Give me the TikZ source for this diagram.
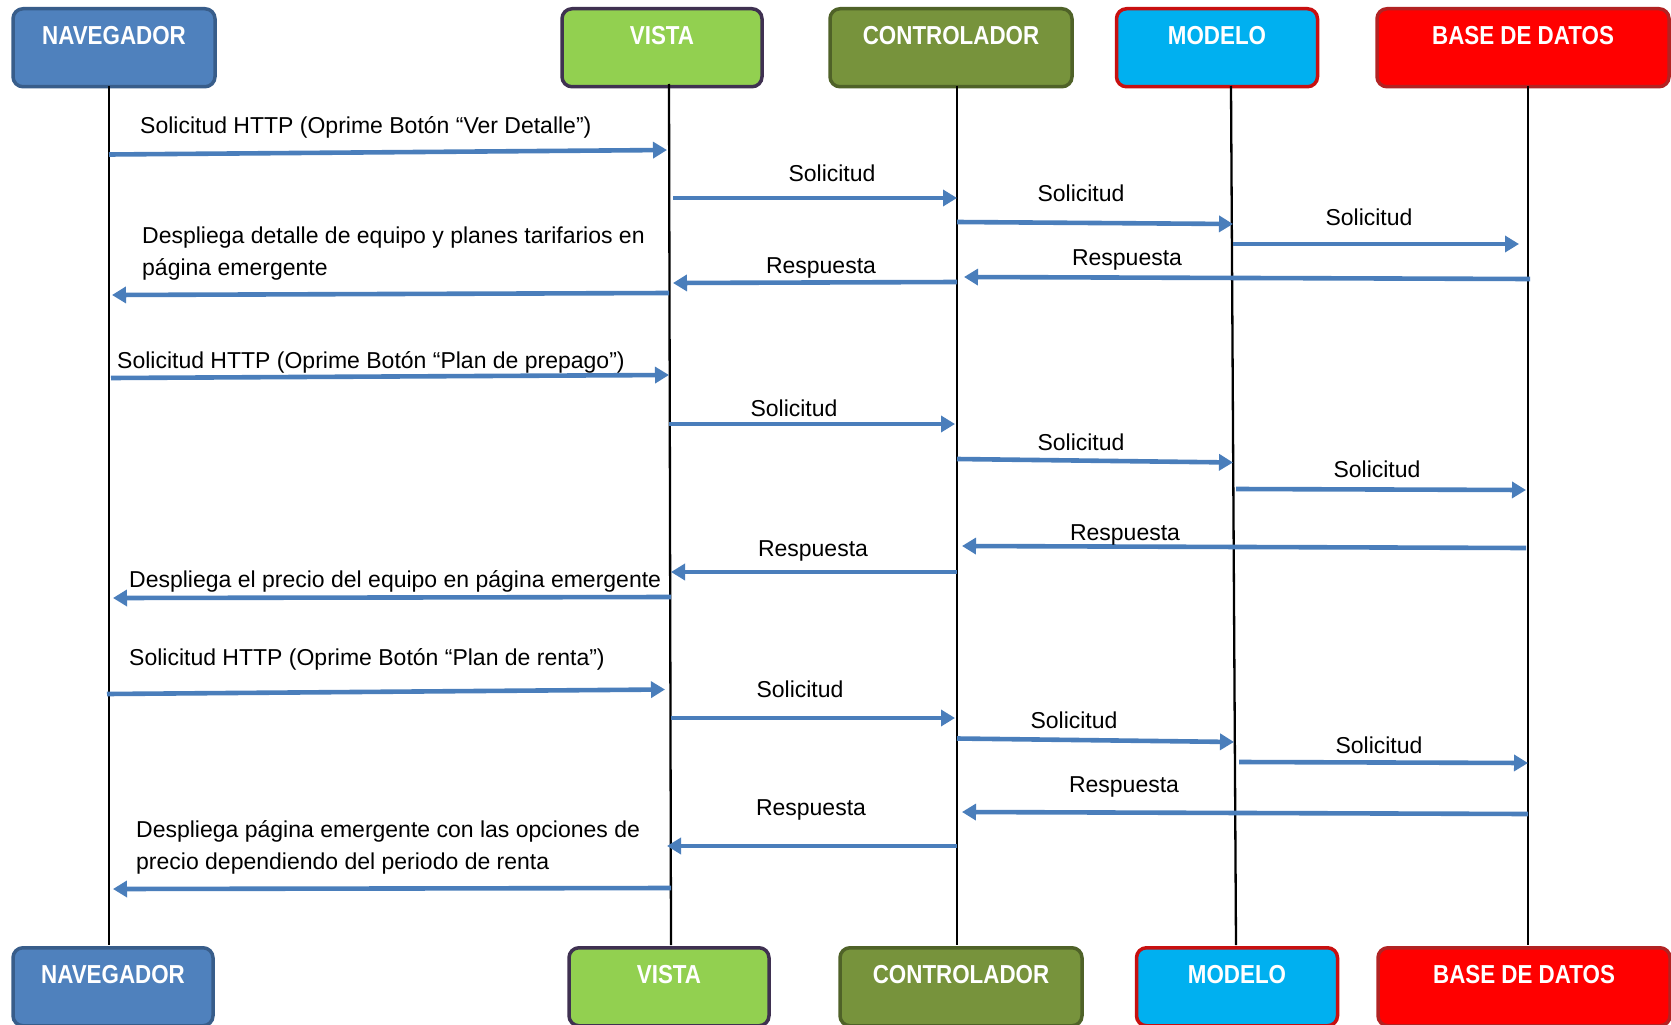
\documentclass[tikz,border=0pt]{standalone}
\usepackage{fontspec}
\setmainfont{Liberation Sans}
\newfontfamily\boxfont[FakeStretch=0.86]{Liberation Sans Bold}
\usetikzlibrary{arrows.meta}
\definecolor{arrowblue}{RGB}{74,126,187}
\definecolor{navfill}{RGB}{79,129,189}
\definecolor{navdraw}{RGB}{56,93,138}
\definecolor{visfill}{RGB}{146,208,80}
\definecolor{visdraw}{RGB}{63,49,81}
\definecolor{confill}{RGB}{119,147,60}
\definecolor{condraw}{RGB}{79,98,40}
\definecolor{modfill}{RGB}{0,176,240}
\definecolor{moddraw}{RGB}{200,16,16}
\definecolor{bdfill}{RGB}{255,0,0}
\definecolor{bddraw}{RGB}{178,34,34}
\begin{document}
\begin{tikzpicture}[x=1pt,y=-1pt,
  actor/.style={draw, line width=3.5pt, rounded corners=10pt, anchor=north,
    inner xsep=0pt, inner ysep=0pt, text height=36pt, text depth=42pt,
    font=\boxfont\fontsize{26}{30}\selectfont, text=white},
  lifeline/.style={black, line width=2.3pt},
  msg/.style={arrowblue, line width=4.6pt, -{Triangle[length=14pt,width=16pt]}},
  lbl/.style={font=\fontsize{23}{30}\selectfont, inner sep=0pt, anchor=base},
  lblw/.style={lbl, anchor=base west}]
\useasboundingbox[fill=white] (0,0) rectangle (1671,1025);

% top boxes
\node[actor, fill=navfill, draw=navdraw, minimum width=202pt] (navT) at (114,7) {NAVEGADOR};
\node[actor, fill=visfill, draw=visdraw, minimum width=200pt] (visT) at (662,7) {VISTA};
\node[actor, fill=confill, draw=condraw, minimum width=242pt] (conT) at (951,7) {CONTROLADOR};
\node[actor, fill=modfill, draw=moddraw, minimum width=201pt] (modT) at (1217,7) {MODELO};
\node[actor, fill=bdfill, draw=bddraw, minimum width=292pt] (bdT) at (1523,7) {BASE DE DATOS};

% bottom boxes
\node[actor, fill=navfill, draw=navdraw, minimum width=200pt] (navB) at (113,946) {NAVEGADOR};
\node[actor, fill=visfill, draw=visdraw, minimum width=200pt] (visB) at (669,946) {VISTA};
\node[actor, fill=confill, draw=condraw, minimum width=242pt] (conB) at (961,946) {CONTROLADOR};
\node[actor, fill=modfill, draw=moddraw, minimum width=201pt] (modB) at (1237,946) {MODELO};
\node[actor, fill=bdfill, draw=bddraw, minimum width=292pt] (bdB) at (1524,946) {BASE DE DATOS};

% lifelines
\coordinate (navL1) at (109,86);  \coordinate (navL2) at (109,945);
\coordinate (visL1) at (669,84);  \coordinate (visL2) at (671,945);
\coordinate (conL1) at (957,86);  \coordinate (conL2) at (957,945);
\coordinate (modL1) at (1231,86); \coordinate (modL2) at (1236,945);
\coordinate (bdL1) at (1528,86);  \coordinate (bdL2) at (1528,945);
\draw[lifeline] (navL1) -- (navL2);
\draw[lifeline] (visL1) -- (visL2);
\draw[lifeline] (conL1) -- (conL2);
\draw[lifeline] (modL1) -- (modL2);
\draw[lifeline] (bdL1) -- (bdL2);

% ---- block 1
\coordinate (m1a) at (109,154.5); \coordinate (m1b) at (667,150);
\coordinate (m2a) at (673,198);   \coordinate (m2b) at (957,198);
\coordinate (m3a) at (957,222);   \coordinate (m3b) at (1233,224);
\coordinate (m4a) at (1233,244);  \coordinate (m4b) at (1519,244);
\coordinate (m5a) at (1530,279);  \coordinate (m5b) at (964,277);
\coordinate (m6a) at (957,282);   \coordinate (m6b) at (673,283);
\coordinate (m7a) at (669,293);   \coordinate (m7b) at (112,295);
\foreach \i in {1,...,7} {\draw[msg] (m\i a) -- (m\i b);}
\node[lblw] (t1) at (140,133) {Solicitud HTTP (Oprime Botón “Ver Detalle”)};
\node[lbl] (t2) at (832,181) {Solicitud};
\node[lbl] (t3) at (1081,201) {Solicitud};
\node[lbl] (t4) at (1369,225) {Solicitud};
\node[lbl] (t5) at (1127,265) {Respuesta};
\node[lbl] (t6) at (821,273) {Respuesta};
\node[lblw] (t7a) at (142,243.5) {Despliega detalle de equipo y planes tarifarios en};
\node[lblw] (t7b) at (142,275.5) {página emergente};

% ---- block 2
\coordinate (m8a) at (111,378);   \coordinate (m8b) at (669,375);
\coordinate (m9a) at (669,424);   \coordinate (m9b) at (955,424);
\coordinate (m10a) at (957,459);  \coordinate (m10b) at (1233,462.5);
\coordinate (m11a) at (1236,489); \coordinate (m11b) at (1526,490);
\coordinate (m12a) at (1526,548); \coordinate (m12b) at (962,546);
\coordinate (m13a) at (957,572);  \coordinate (m13b) at (671,572);
\coordinate (m14a) at (671,597);  \coordinate (m14b) at (113,598);
\foreach \i in {8,...,14} {\draw[msg] (m\i a) -- (m\i b);}
\node[lblw] (t8) at (117,368) {Solicitud HTTP (Oprime Botón “Plan de prepago”)};
\node[lbl] (t9) at (794,416) {Solicitud};
\node[lbl] (t10) at (1081,450) {Solicitud};
\node[lbl] (t11) at (1377,477) {Solicitud};
\node[lbl] (t12) at (1125,540) {Respuesta};
\node[lbl] (t13) at (813,556) {Respuesta};
\node[lblw] (t14) at (129,587) {Despliega el precio del equipo en página emergente};

% ---- block 3
\coordinate (m15a) at (107,694);  \coordinate (m15b) at (665,689.5);
\coordinate (m16a) at (671,718);  \coordinate (m16b) at (955,718);
\coordinate (m17a) at (957,738.5);\coordinate (m17b) at (1234,742);
\coordinate (m18a) at (1239,762); \coordinate (m18b) at (1528,763);
\coordinate (m19a) at (1528,814); \coordinate (m19b) at (962,812);
\coordinate (m20a) at (957,846);  \coordinate (m20b) at (667,846);
\coordinate (m21a) at (671,888);  \coordinate (m21b) at (113,889);
\foreach \i in {15,...,21} {\draw[msg] (m\i a) -- (m\i b);}
\node[lblw] (t15) at (129,665.5) {Solicitud HTTP (Oprime Botón “Plan de renta”)};
\node[lbl] (t16) at (800,697.5) {Solicitud};
\node[lbl] (t17) at (1074,728) {Solicitud};
\node[lbl] (t18) at (1379,753) {Solicitud};
\node[lbl] (t19) at (1124,792) {Respuesta};
\node[lbl] (t20) at (811,815) {Respuesta};
\node[lblw] (t21a) at (136,837) {Despliega página emergente con las opciones de};
\node[lblw] (t21b) at (136,869) {precio dependiendo del periodo de renta};
\end{tikzpicture}
\end{document}
